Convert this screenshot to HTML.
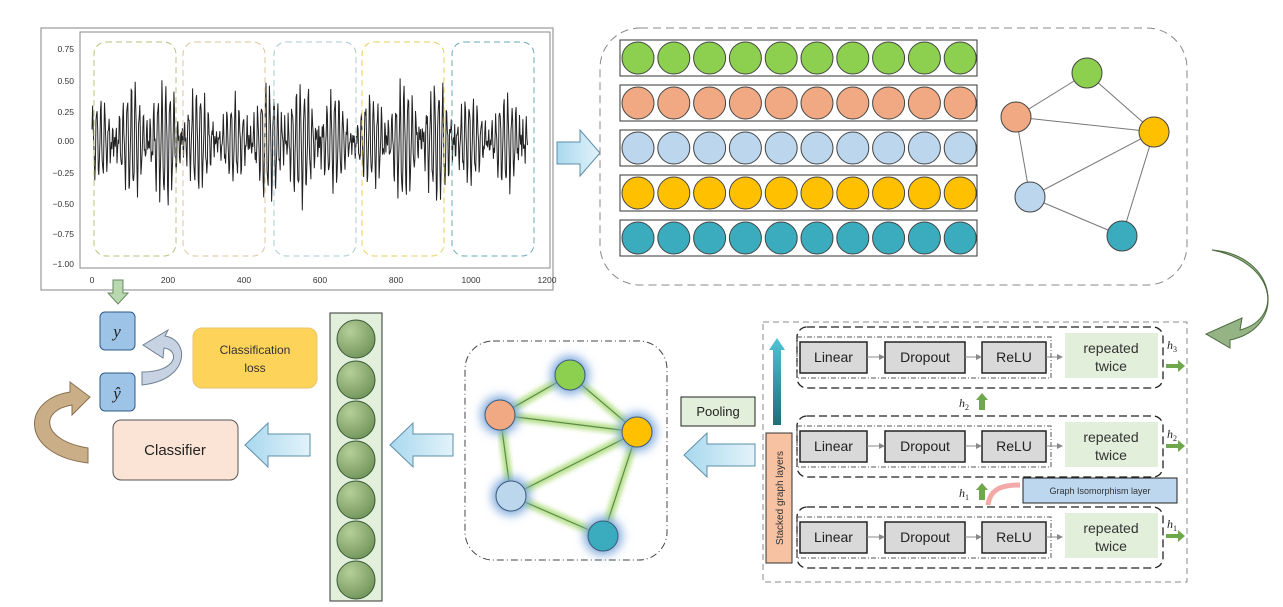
<!DOCTYPE html>
<html><head><meta charset="utf-8"><style>
body{margin:0;background:#fff;}
svg{display:block;font-family:"Liberation Sans",sans-serif;}
</style></head><body>
<svg id="s" width="1283" height="607" viewBox="0 0 1283 607" xmlns="http://www.w3.org/2000/svg">
<defs>
<linearGradient id="ab" x1="0" x2="1"><stop offset="0" stop-color="#a9d8ee"/><stop offset="1" stop-color="#e2f3fa"/></linearGradient>
<radialGradient id="cg" cx="0.35" cy="0.3" r="0.8"><stop offset="0" stop-color="#b6cf98"/><stop offset="1" stop-color="#6d9157"/></radialGradient>
<linearGradient id="tl" x1="0" y1="1" x2="0" y2="0"><stop offset="0" stop-color="#1e6e78"/><stop offset="1" stop-color="#4fc5d6"/></linearGradient>
<filter id="glow" x="-1" y="-1" width="3" height="3"><feGaussianBlur stdDeviation="5"/></filter>
<filter id="lg" x="-0.2" y="-0.2" width="1.4" height="1.4"><feGaussianBlur stdDeviation="2.5"/></filter>
</defs>
<!-- plot -->
<rect x="41" y="28" width="512" height="262" fill="#fff" stroke="#999" stroke-width="1.2"/>
<rect x="80" y="32" width="470" height="236" fill="none" stroke="#888" stroke-width="1"/>
<g font-size="8.5" fill="#333" text-anchor="end">
<text x="74" y="52">0.75</text><text x="74" y="84">0.50</text><text x="74" y="115">0.25</text><text x="74" y="144">0.00</text>
<text x="74" y="176">−0.25</text><text x="74" y="207">−0.50</text><text x="74" y="237">−0.75</text><text x="74" y="267">−1.00</text>
</g>
<g font-size="8.5" fill="#333" text-anchor="middle">
<text x="92" y="283">0</text><text x="168" y="283">200</text><text x="244" y="283">400</text><text x="320" y="283">600</text><text x="396" y="283">800</text><text x="471" y="283">1000</text><text x="547" y="283">1200</text>
</g>
<polyline id="sig" fill="none" stroke="#222" stroke-width="1" points=""/>
<g fill="none" stroke-width="1" stroke-dasharray="6,4">
<rect x="94" y="42" width="82" height="214" rx="12" stroke="#b9c27a"/>
<rect x="183" y="42" width="82" height="214" rx="12" stroke="#dcc49b"/>
<rect x="274" y="42" width="82" height="214" rx="12" stroke="#a9c8d6"/>
<rect x="362" y="42" width="82" height="214" rx="12" stroke="#e8cf5a"/>
<rect x="452" y="42" width="82" height="214" rx="12" stroke="#6aa9b8"/>
</g>
<!-- arrow plot->rows -->
<polygon points="557,142 580,142 580,130 600,153 580,176 580,164 557,164" fill="url(#ab)" stroke="#5b8fa8"/>
<!-- top-right panel -->
<rect x="600" y="28" width="587" height="257" rx="40" fill="none" stroke="#888" stroke-dasharray="8,5"/>
<g id="rows"></g>
<g stroke="#777" stroke-width="1">
<line x1="1087" y1="73" x2="1016" y2="117"/><line x1="1087" y1="73" x2="1154" y2="132"/>
<line x1="1016" y1="117" x2="1154" y2="132"/><line x1="1016" y1="117" x2="1030" y2="197"/>
<line x1="1030" y1="197" x2="1154" y2="132"/><line x1="1154" y1="132" x2="1122" y2="236"/>
<line x1="1030" y1="197" x2="1122" y2="236"/>
</g>
<g stroke="#444" stroke-width="1">
<circle cx="1087" cy="73" r="15" fill="#8dcf4f"/><circle cx="1016" cy="117" r="15" fill="#f0a982"/>
<circle cx="1154" cy="132" r="15" fill="#ffc000"/><circle cx="1030" cy="197" r="15" fill="#bcd6ee"/>
<circle cx="1122" cy="236" r="15" fill="#3aacbd"/>
</g>
<!-- big curved arrow -->
<path d="M1212,250 C1275,262 1285,318 1240,330 L1242,318 L1206,334 L1230,348 L1230,340 C1288,328 1278,255 1212,250 Z" fill="#94b486" stroke="#4d6b3f"/>
<!-- bottom right -->
<rect x="763" y="322" width="424" height="260" fill="none" stroke="#888" stroke-dasharray="6,4"/>
<g id="layers"></g>
<rect x="766" y="433" width="26" height="130" fill="#f7c2a2" stroke="#333"/>
<text transform="translate(783,498) rotate(-90)" font-size="10" text-anchor="middle" fill="#333">Stacked graph layers</text>
<polygon points="773,425 773,350 769,350 777,338 785,350 781,350 781,425" fill="url(#tl)"/>
<rect x="1023" y="478" width="154" height="25" fill="#bdd7ee" stroke="#222"/>
<text x="1100" y="494" font-size="9" text-anchor="middle" fill="#333">Graph Isomorphism  layer</text>
<path d="M1020,485 C1000,485 990,490 988,505" fill="none" stroke="#f4a9a9" stroke-width="5"/>
<g fill="#6fa84b"><polygon points="979,410 979,400 976,400 982,393 988,400 985,400 985,410"/><polygon points="979,500 979,490 976,490 982,483 988,490 985,490 985,500"/></g>
<g font-family="Liberation Serif,serif" font-style="italic" font-size="12" fill="#222">
<text x="959" y="407">h<tspan font-size="8" font-style="normal" dy="3">2</tspan></text>
<text x="959" y="497">h<tspan font-size="8" font-style="normal" dy="3">1</tspan></text>
<text x="1167" y="349">h<tspan font-size="8" font-style="normal" dy="3">3</tspan></text>
<text x="1167" y="438">h<tspan font-size="8" font-style="normal" dy="3">2</tspan></text>
<text x="1167" y="528">h<tspan font-size="8" font-style="normal" dy="3">1</tspan></text>
</g>
<g fill="#6fa84b"><polygon points="1166,364 1178,364 1178,360 1185,366 1178,372 1178,368 1166,368"/><polygon points="1166,444 1178,444 1178,440 1185,446 1178,452 1178,448 1166,448"/><polygon points="1166,534 1178,534 1178,530 1185,536 1178,542 1178,538 1166,538"/></g>
<!-- pooling -->
<rect x="681" y="397" width="74" height="29" fill="#e2efda" stroke="#222"/>
<text x="718" y="416" font-size="13" text-anchor="middle" fill="#222">Pooling</text>
<polygon points="755,444 707,444 707,433 684,455 707,477 707,466 755,466" fill="url(#ab)" stroke="#5b8fa8"/>
<!-- graph 2 -->
<rect x="465" y="341" width="202" height="219" rx="28" fill="none" stroke="#444" stroke-dasharray="7,3,1,3"/>
<g id="g2"></g>
<polygon points="453,434 413,434 413,423 390,445 413,467 413,456 453,456" fill="url(#ab)" stroke="#5b8fa8"/>
<!-- column -->
<rect x="330" y="313" width="52" height="288" fill="#e2efda" stroke="#333"/>
<g stroke="#3a5a3a" fill="url(#cg)">
<circle cx="356" cy="339" r="19"/><circle cx="356" cy="380" r="19"/><circle cx="356" cy="420" r="19"/><circle cx="356" cy="460" r="19"/><circle cx="356" cy="500" r="19"/><circle cx="356" cy="540" r="19"/><circle cx="356" cy="580" r="19"/>
</g>
<polygon points="310,434 268,434 268,423 245,445 268,467 268,456 310,456" fill="url(#ab)" stroke="#5b8fa8"/>
<!-- classifier -->
<rect x="113" y="420" width="125" height="60" rx="8" fill="#fbe3d6" stroke="#555"/>
<text x="175" y="455" font-size="15" text-anchor="middle" fill="#222">Classifier</text>
<rect x="193" y="328" width="124" height="60" rx="9" fill="#fdd35a" stroke="#e6c46a"/>
<text x="255" y="354" font-size="12" text-anchor="middle" fill="#333">Classification</text>
<text x="255" y="372" font-size="12" text-anchor="middle" fill="#333">loss</text>
<rect x="100" y="312" width="35" height="38" rx="5" fill="#9dc3e6" stroke="#2e5b8a"/>
<rect x="100" y="373" width="35" height="38" rx="5" fill="#9dc3e6" stroke="#2e5b8a"/>
<text x="117" y="337" font-family="Liberation Serif,serif" font-style="italic" font-size="17" text-anchor="middle" fill="#222">y</text>
<text x="117" y="399" font-family="Liberation Serif,serif" font-style="italic" font-size="17" text-anchor="middle" fill="#222">ŷ</text>
<polygon points="113,280 113,293 108,293 118,304 128,293 123,293 123,280" fill="#b8d8b0" stroke="#6a8a60"/>
<path d="M142,385 C190,380 190,340 165,336 L168,330 L143,345 L163,358 L164,348 C180,350 178,372 142,372 Z" fill="#c7d3e2" stroke="#6f8090"/>
<path d="M88,463 C20,455 20,400 70,392 L70,382 L90,397 L72,415 L72,405 C40,410 40,440 88,448 Z" fill="#c9ae88" stroke="#8a7050"/>
</svg>
<script>
(function(){
var ns="http://www.w3.org/2000/svg",s=document.getElementById('s');
function el(t,a,p){var e=document.createElementNS(ns,t);for(var k in a)e.setAttribute(k,a[k]);(p||s).appendChild(e);return e;}
var pts=[],seed=7;function r(){seed=(seed*9301+49297)%233280;return seed/233280;}
for(var d=0;d<=1150;d+=1.5){var v=0.2*Math.sin(d*0.62)+0.15*Math.sin(d*0.55+1)+0.08*Math.sin(d*1.4)+(r()-0.5)*0.08;
var env=0.75+0.55*Math.abs(Math.sin(d/110));v*=env;if(v>0.8)v=0.8;if(v<-0.93)v=-0.93;
pts.push((92+d*0.379).toFixed(1)+","+(141-v*122.7).toFixed(1));}
document.getElementById('sig').setAttribute('points',pts.join(' '));
var rg=document.getElementById('rows'),cols=['#8dcf4f','#f0a982','#bcd6ee','#ffc000','#3aacbd'];
for(var i=0;i<5;i++){var cy=58+i*45;el('rect',{x:620,y:cy-18,width:357,height:36,fill:'#fff',stroke:'#333'},rg);
for(var j=0;j<10;j++)el('circle',{cx:638+j*35.8,cy:cy,r:16,fill:cols[i],stroke:'#444'},rg);}
var lg=document.getElementById('layers'),ys=[357,446,537];
ys.forEach(function(y){
el('rect',{x:797,y:y-30,width:366,height:61,rx:10,fill:'none',stroke:'#222','stroke-width':1.3,'stroke-dasharray':'8,4'},lg);
el('rect',{x:797,y:y-20,width:254,height:41,fill:'none',stroke:'#555','stroke-dasharray':'5,2,1,2'},lg);
el('rect',{x:1065,y:y-24,width:93,height:45,fill:'#e2efda'},lg);
var t=el('text',{x:1111,y:y-4,'font-size':14,'text-anchor':'middle',fill:'#333'},lg);t.textContent='repeated';
t=el('text',{x:1111,y:y+14,'font-size':14,'text-anchor':'middle',fill:'#333'},lg);t.textContent='twice';
[[800,67,'Linear'],[885,80,'Dropout'],[982,64,'ReLU']].forEach(function(b){
el('rect',{x:b[0],y:y-15,width:b[1],height:31,fill:'#d9d9d9',stroke:'#222','stroke-width':1.5},lg);
var tt=el('text',{x:b[0]+b[1]/2,y:y+5,'font-size':14,'text-anchor':'middle',fill:'#222'},lg);tt.textContent=b[2];});
[[867,885],[965,982],[1046,1063]].forEach(function(a){el('line',{x1:a[0],y1:y,x2:a[1]-4,y2:y,stroke:'#888'},lg);
el('polygon',{points:(a[1])+','+y+' '+(a[1]-6)+','+(y-3)+' '+(a[1]-6)+','+(y+3),fill:'#888'},lg);});
});
var g=document.getElementById('g2'),N=[[570,375,'#8dcf4f'],[500,415,'#f0a982'],[637,432,'#ffc000'],[511,496,'#bcd6ee'],[603,536,'#3aacbd']],
E=[[0,1],[0,2],[1,2],[1,3],[3,2],[2,4],[3,4]];
E.forEach(function(e){el('line',{x1:N[e[0]][0],y1:N[e[0]][1],x2:N[e[1]][0],y2:N[e[1]][1],stroke:'#b6e08a','stroke-width':8,filter:'url(#lg)'},g);});
E.forEach(function(e){el('line',{x1:N[e[0]][0],y1:N[e[0]][1],x2:N[e[1]][0],y2:N[e[1]][1],stroke:'#5b8a4a','stroke-width':1.2},g);});
N.forEach(function(n){el('circle',{cx:n[0],cy:n[1],r:19,fill:'#7aa6dc',filter:'url(#glow)'},g);});
N.forEach(function(n){el('circle',{cx:n[0],cy:n[1],r:15,fill:n[2],stroke:'#3b5a7a'},g);});
})();
</script>
</body></html>
